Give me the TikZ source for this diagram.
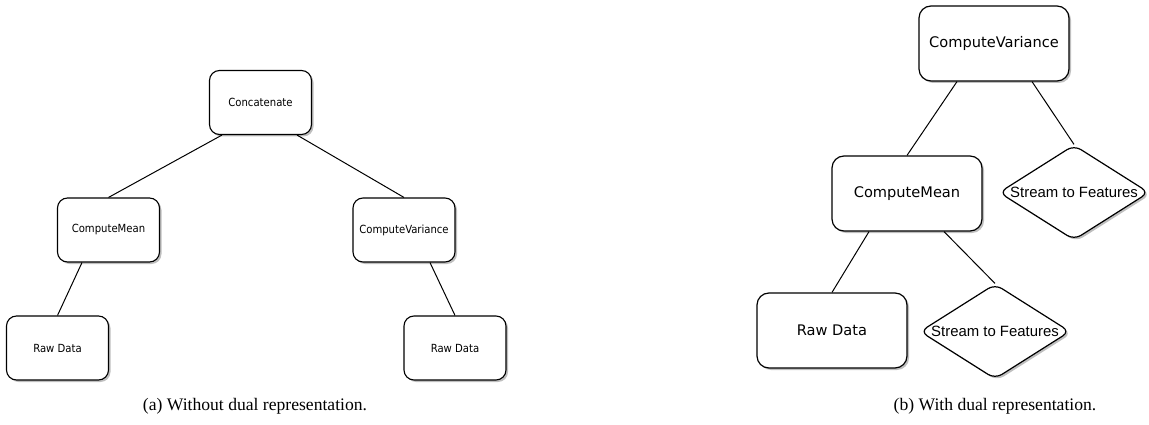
\documentclass[tikz,border=0pt]{standalone}
\usepackage{fontspec}
\setmainfont{Liberation Serif}
\newfontfamily\boxfontA{DejaVu Sans Condensed}
\newfontfamily\boxfontB{DejaVu Sans}
\newfontfamily\choicefont{Liberation Sans}
\usetikzlibrary{shapes.geometric,shadows}

\begin{document}
\begin{tikzpicture}[x=1pt,y=-1pt,
  shadowed/.style={drop shadow={shadow xshift=2pt,shadow yshift=-2pt,fill=black,opacity=0.25}},
  smallbox/.style={draw,line width=1.1pt,rounded corners=10pt,fill=white,shadowed,
    minimum width=102pt,minimum height=64pt,inner sep=0pt,
    font=\boxfontA\fontsize{11.2}{13}\selectfont},
  bigbox/.style={draw,line width=1.2pt,rounded corners=12pt,fill=white,shadowed,
    minimum width=150pt,minimum height=75pt,inner sep=0pt,
    font=\boxfontB\fontsize{14.6}{17}\selectfont},
  choice/.style={diamond,draw,line width=1.2pt,rounded corners=8pt,fill=white,shadowed,
    minimum width=150pt,minimum height=95pt,inner sep=0pt},
  choicetext/.style={font=\choicefont\fontsize{14.9}{17}\selectfont,inner sep=0pt},
  link/.style={line width=1pt},
  caption/.style={font=\fontsize{17.6}{20}\selectfont}]
\useasboundingbox (0,0) rectangle (1149,425);

% (a) tree without the dual representation
\node[smallbox] (concat) at (260.5,102.5) {Concatenate};
\node[smallbox] (meanA)  at (108.5,230)   {ComputeMean};
\node[smallbox] (varA)   at (404,230)     {ComputeVariance};
\node[smallbox] (rawA1)  at (57.5,348)    {Raw Data};
\node[smallbox] (rawA2)  at (455,348)     {Raw Data};

\draw[link] ([xshift=-38.5pt]concat.south) -- (meanA.north);
\draw[link] ([xshift=36.5pt]concat.south) -- (varA.north);
\draw[link] ([xshift=-26.5pt]meanA.south) -- (rawA1.north);
\draw[link] ([xshift=26pt]varA.south) -- (rawA2.north);

% (b) tree with the dual representation
\node[bigbox] (varB)  at (994,43.5)  {ComputeVariance};
\node[bigbox] (meanB) at (907,193.5) {ComputeMean};
\node[bigbox] (rawB)  at (832,330.5) {Raw Data};
\node[choice] (sfB1)  at (1074,192.5) {};
\node[choicetext] at (sfB1) {Stream to Features};
\node[choice] (sfB2)  at (995,331.5) {};
\node[choicetext] at (sfB2) {Stream to Features};

\draw[link] ([xshift=-37pt]varB.south) -- (meanB.north);
\draw[link] ([xshift=38pt]varB.south) -- (sfB1.north);
\draw[link] ([xshift=-38pt]meanB.south) -- (rawB.north);
\draw[link] ([xshift=37pt]meanB.south) -- (sfB2.north);

% captions
\node[caption] (capA) at (255,406) {(a) Without dual representation.};
\node[caption] (capB) at (995,406) {(b) With dual representation.};
\end{tikzpicture}
\end{document}
